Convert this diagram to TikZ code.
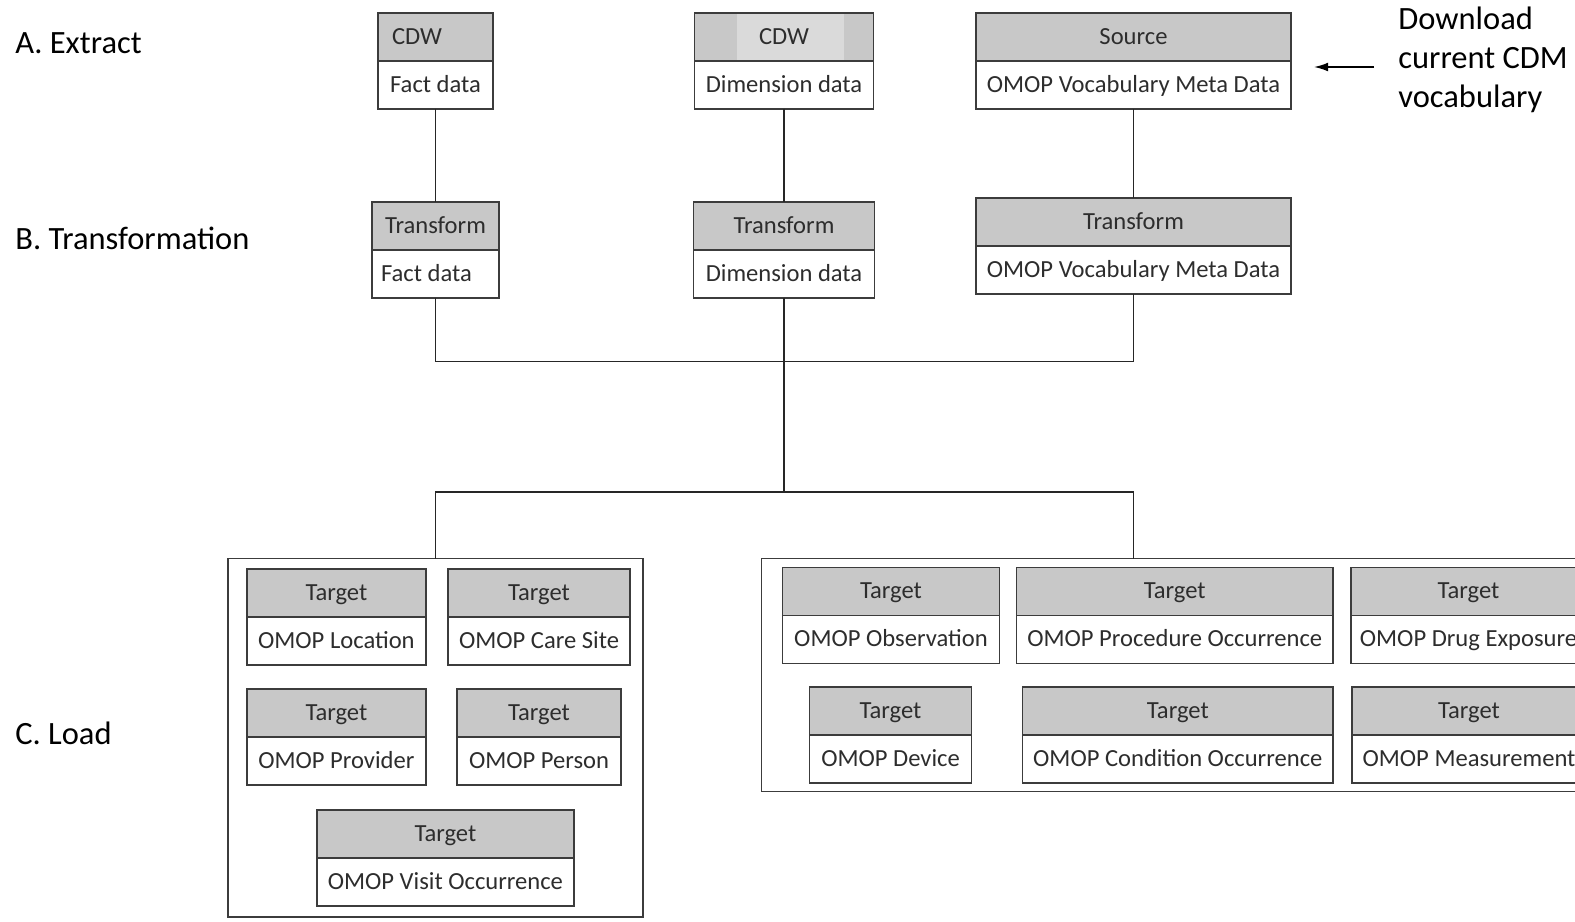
\documentclass[tikz,border=0pt]{standalone}
\usepackage{fontspec}
\setmainfont{Carlito}
\usepackage{tikz}
\usetikzlibrary{arrows.meta, positioning, calc}
\definecolor{headgray}{RGB}{200,200,200}
\definecolor{headlight}{RGB}{218,218,218}
\definecolor{boxline}{RGB}{60,60,60}
\definecolor{boxtext}{RGB}{45,45,45}
\tikzset{
  headcell/.style={
    draw=boxline, fill=headgray, line width=1pt, anchor=north,
    minimum height=0.96cm, inner sep=3pt, outer sep=0pt, text=boxtext,
    text height=0.84em, text depth=0em,
    font=\fontsize{14}{16}\selectfont
  },
  bodycell/.style={
    draw=boxline, fill=white, line width=1pt, anchor=north,
    minimum height=0.96cm, inner sep=3pt, outer sep=0pt, text=boxtext,
    text height=0.84em, text depth=0em,
    font=\fontsize{14}{16}\selectfont
  },
  groupbox/.style={
    draw=boxline, line width=1pt, anchor=north west, inner sep=0pt,
    outer sep=0pt
  },
  stagelabel/.style={
    anchor=base west, inner sep=0pt, font=\fontsize{18.5}{22}\selectfont
  },
  linkline/.style={line width=0.9pt, draw=black!85},
  dlarrow/.style={-{Latex[length=8pt, width=5pt]}, line width=0.9pt},
}

\begin{document}
\begin{tikzpicture}[x=0.02cm, y=-0.02cm]
  \useasboundingbox (0,0) rectangle (1575,921);

  % Stage labels
  \node[stagelabel] (lblextract) at (15,53) {A. Extract};
  \node[stagelabel] (lbltrans) at (15,249) {B. Transformation};
  \node[stagelabel] (lblload) at (15,744) {C. Load};

  % A. Extract
  \node[headcell, minimum width=2.30cm, text width=1.74cm, align=flush left]
    (cdwfacth) at (435.5,13) {CDW};
  \node[bodycell, minimum width=2.30cm] (cdwfactb) at (cdwfacth.south) {Fact data};
  \node[headcell, minimum width=3.58cm,
    path picture={\fill[headlight]
      ([xshift=0.85cm, yshift=0.5pt]path picture bounding box.south west) rectangle
      ([xshift=-0.58cm, yshift=-0.5pt]path picture bounding box.north east);}]
    (cdwdimh) at (784,13) {CDW};
  \node[bodycell, minimum width=3.58cm] (cdwdimb) at (cdwdimh.south) {Dimension data};
  \node[headcell, minimum width=6.30cm] (srcvocabh) at (1133.5,13) {Source};
  \node[bodycell, minimum width=6.30cm] (srcvocabb) at (srcvocabh.south)
    {OMOP Vocabulary Meta Data};

  % Download hint
  \node[anchor=north west, inner sep=0pt, align=left,
    font=\fontsize{18.5}{22}\selectfont] (dltext) at (1398,7)
    {Download\\current CDM\\vocabulary};
  \coordinate (dlfrom) at (1374,67);
  \coordinate (dlto) at (1314,67);
  \draw[dlarrow] (dlfrom) -- (dlto);

  % B. Transformation
  \node[headcell, minimum width=2.54cm] (trfacth) at (435.5,202) {Transform};
  \node[bodycell, minimum width=2.54cm, text width=2.18cm, align=flush left]
    (trfactb) at (trfacth.south) {Fact data};
  \node[headcell, minimum width=3.62cm] (trdimh) at (784,202) {Transform};
  \node[bodycell, minimum width=3.62cm] (trdimb) at (trdimh.south) {Dimension data};
  \node[headcell, minimum width=6.30cm] (trvocabh) at (1133.5,198) {Transform};
  \node[bodycell, minimum width=6.30cm] (trvocabb) at (trvocabh.south)
    {OMOP Vocabulary Meta Data};

  \draw[linkline] (cdwfactb) -- (trfacth);
  \draw[linkline] (cdwdimb) -- (trdimh);
  \draw[linkline] (srcvocabb) -- (trvocabh);

  % C. Load: groups
  \node[groupbox, minimum width=8.30cm, minimum height=7.17cm]
    (loadleft) at (228,558.5) {};
  \node[groupbox, minimum width=16.77cm, minimum height=4.66cm]
    (loadright) at (761.4,558.5) {};

  % merge and split
  \coordinate (mergeup) at (784,361.6);
  \coordinate (splitdown) at (784,492);
  \draw[linkline] (trfactb.south) |- (mergeup) -| (trvocabb.south);
  \draw[linkline] (trdimb) -- (splitdown);
  \draw[linkline] (loadleft.north -| trfactb.south) |- (splitdown)
    -| (loadright.north -| trvocabb.south);

  % left group targets
  \node[headcell, minimum width=3.58cm] (locationh) at (336.4,569) {Target};
  \node[bodycell, minimum width=3.58cm] (locationb) at (locationh.south) {OMOP Location};
  \node[headcell, minimum width=3.64cm] (caresiteh) at (539,569) {Target};
  \node[bodycell, minimum width=3.64cm] (caresiteb) at (caresiteh.south) {OMOP Care Site};
  \node[headcell, minimum width=3.58cm] (providerh) at (336.4,689) {Target};
  \node[bodycell, minimum width=3.58cm] (providerb) at (providerh.south) {OMOP Provider};
  \node[headcell, minimum width=3.28cm] (personh) at (539,689) {Target};
  \node[bodycell, minimum width=3.28cm] (personb) at (personh.south) {OMOP Person};
  \node[headcell, minimum width=5.14cm] (visith) at (445.4,810) {Target};
  \node[bodycell, minimum width=5.14cm] (visitb) at (visith.south)
    {OMOP Visit Occurrence};

  % right group targets
  \node[headcell, minimum width=4.34cm] (observh) at (891,567.5) {Target};
  \node[bodycell, minimum width=4.34cm] (observb) at (observh.south)
    {OMOP Observation};
  \node[headcell, minimum width=6.33cm] (procedh) at (1174.7,567.5) {Target};
  \node[bodycell, minimum width=6.33cm] (procedb) at (procedh.south)
    {OMOP Procedure Occurrence};
  \node[headcell, minimum width=4.70cm] (drugh) at (1468.5,567.5) {Target};
  \node[bodycell, minimum width=4.70cm] (drugb) at (drugh.south)
    {OMOP Drug Exposure};
  \node[headcell, minimum width=3.24cm] (deviceh) at (890.5,687) {Target};
  \node[bodycell, minimum width=3.24cm] (deviceb) at (deviceh.south) {OMOP Device};
  \node[headcell, minimum width=6.21cm] (condh) at (1177.8,687) {Target};
  \node[bodycell, minimum width=6.21cm] (condb) at (condh.south)
    {OMOP Condition Occurrence};
  \node[headcell, minimum width=4.68cm] (meash) at (1469,687) {Target};
  \node[bodycell, minimum width=4.68cm] (measb) at (meash.south)
    {OMOP Measurement};
\end{tikzpicture}
\end{document}
